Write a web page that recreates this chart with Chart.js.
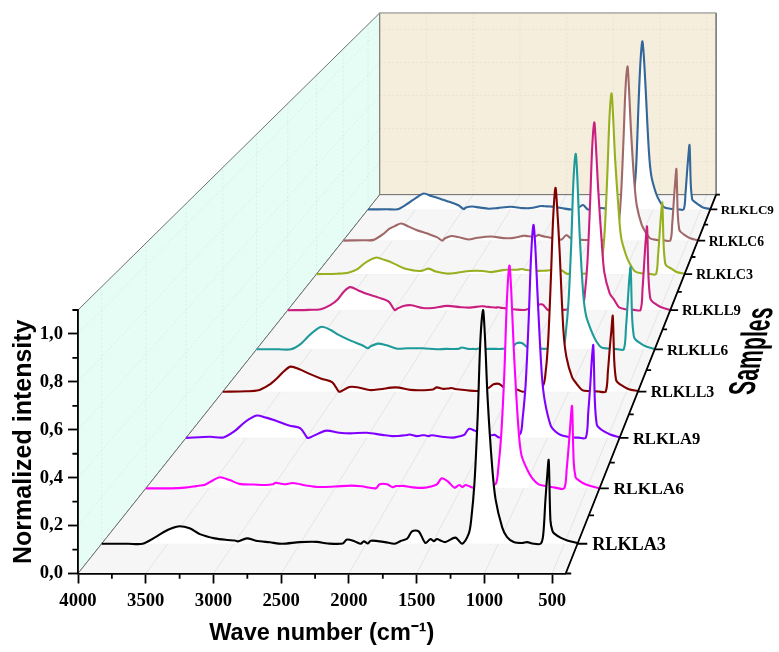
<!DOCTYPE html>
<html>
<head>
<meta charset="utf-8">
<style>
    html, body { margin: 0; padding: 0; background: #fff; }
    canvas { display: block; }
</style>
<script src="https://cdn.jsdelivr.net/npm/chart.js@4/dist/chart.umd.js"></script>
</head>
<body>
<canvas id="chart" width="779" height="652"></canvas>
<script>
//--- Data ---//
const sampleNames = ['RLKLA3', 'RLKLA6', 'RLKLA9', 'RLKLL3', 'RLKLL6', 'RLKLL9', 'RLKLC3', 'RLKLC6', 'RLKLC9'];
const sampleDepths = [0.5, 1.5, 2.5, 3.5, 4.5, 5.5, 6.5, 7.5, 8.5];
const sampleColors = ['#000000', '#ff00ff', '#8000ff', '#800000', '#1f9a9a', '#c9207f', '#98b020', '#a06868', '#336699'];

const waveNumbers = [
    4000, 3800, 3690, 3600, 3530, 3470, 3412, 3335, 3258, 3145,
    3050, 2993, 2970, 2902, 2834, 2728, 2637, 2500, 2372, 2289,
    2176, 2145, 2085, 2040, 2017, 1986, 1964, 1858, 1782, 1738,
    1690, 1652, 1602, 1551, 1513, 1488, 1463, 1437, 1400, 1324,
    1273, 1223, 1205, 1180, 1155, 1135, 1115, 1100, 1080, 1046,
    1020, 970, 933, 883, 820, 781, 743, 680, 660, 643,
    630, 618, 605, 590, 575, 529, 478, 400
];
const rlkla3 = [
    0, 0, 0, .026, .05, .066, .075, .066, .041, .023,
    .016, .014, .01, .023, .013, .006, 0, .007, .008, .001,
    .001, .018, .01, 0, .01, .001, .013, .007, 0, .012,
    .021, .053, .053, .003, .02, .011, .02, .014, .007, .026,
    0, .043, .1, .258, .55, .87, 1, .88, .62, .33,
    .19, .07, .028, .007, .003, .007, .001, 0, .036, .186,
    .286, .358, .1, .055, .043, .026, .014, .003
];
const rlkla6 = [
    0, 0, .003, .01, .016, .035, .05, .037, .02, .017,
    .015, .018, .025, .018, .024, .013, .006, .008, .012, .009,
    0, .018, .018, .005, .01, .01, .011, .003, .003, .008,
    .018, .045, .03, .003, .015, .006, .015, .01, .003, .005,
    .008, .02, .08, .24, .52, .84, 1, .88, .62, .29,
    .15, .08, .045, .018, .01, .006, .002, 0, .09, .2,
    .3, .369, .12, .05, .04, .023, .012, 0
];
const rlkla9 = [
    0, .005, .002, .03, .065, .09, .105, .095, .082, .058,
    .045, 0, .002, .02, .034, .024, .021, .024, .014, .008,
    .012, .016, .008, .012, .012, .008, .012, .004, .001, .006,
    .014, .042, .034, .022, .02, .016, .012, .014, .002, .01,
    .008, .02, .09, .25, .55, .85, 1, .9, .66, .3,
    .17, .055, .03, .012, .004, .002, .001, .001, .12, .25,
    .37, .435, .17, .065, .05, .03, .016, .002
];
const rlkll3 = [
    0, .002, .007, .033, .066, .1, .123, .11, .09, .064,
    .046, 0, .003, .023, .022, .008, .012, .021, .009, .007,
    .011, .021, .014, .016, .018, .013, .012, .005, .004, .012,
    .02, .036, .038, .015, .014, .016, .014, .008, 0, .006,
    .01, .03, .07, .23, .55, .85, 1, .9, .7, .3,
    .17, .07, .04, .008, .003, .002, .001, 0, .1, .22,
    .3, .372, .15, .06, .045, .027, .012, .003
];
const rlkll6 = [
    0, 0, 0, .028, .068, .097, .115, .1, .074, .043,
    .022, .005, .015, .029, .022, .003, .005, .005, 0, .002,
    .002, .009, .002, .002, .001, .004, .002, .002, .002, .005,
    .008, .03, .032, .01, .008, .005, .01, .005, .002, .005,
    .008, .02, .08, .24, .54, .86, 1, .88, .6, .28,
    .17, .09, .045, .01, .004, .002, .001, 0, .11, .25,
    .36, .419, .17, .07, .05, .03, .014, .002
];
const rlkll9 = [
    0, .002, .005, .027, .057, .1, .123, .105, .087, .067,
    .046, 0, .008, .024, .026, .012, .012, .023, .016, .014,
    .021, .02, .016, .014, .016, .012, .011, .004, .001, .006,
    .012, .028, .03, .001, .002, .003, .003, .002, .002, .006,
    .01, .025, .08, .25, .56, .86, 1, .88, .66, .37,
    .2, .09, .06, .016, .005, .003, .002, .001, .12, .27,
    .38, .445, .18, .07, .05, .03, .014, .002
];
const rlklc3 = [
    0, .002, .007, .027, .06, .08, .092, .078, .062, .032,
    .02, .017, .018, .03, .014, .003, .006, .017, .017, .011,
    .022, .024, .024, .024, .026, .028, .024, .018, .018, .02,
    .022, .024, .02, .002, .002, .003, .003, .002, .002, .005,
    .01, .02, .08, .25, .56, .86, 1, .88, .64, .36,
    .2, .1, .055, .014, .005, .003, .001, 0, .1, .23,
    .33, .395, .16, .06, .045, .03, .012, .002
];
const rlklc6 = [
    0, .002, .004, .035, .068, .085, .098, .08, .061, .04,
    .02, 0, .012, .026, .02, .006, .016, .023, .014, .014,
    .027, .027, .022, .026, .033, .027, .024, .012, .006, .031,
    .013, .004, .005, .003, .003, .003, .003, .003, .002, .004,
    .006, .018, .08, .26, .58, .87, 1, .88, .64, .34,
    .2, .09, .05, .012, .004, .002, .001, 0, .1, .24,
    .34, .41, .16, .065, .05, .03, .013, .002
];
const rlklc9 = [
    0, .001, .001, .028, .055, .078, .095, .08, .066, .045,
    .025, .002, .012, .017, .012, .004, .008, .016, .008, .008,
    .02, .019, .017, .016, .013, .01, .008, 0, .012, .026,
    0, 0, 0, .008, .006, .004, .004, .003, .002, .004,
    .006, .018, .08, .25, .62, .87, 1, .92, .72, .35,
    .2, .095, .05, .012, .004, .002, .001, 0, .1, .23,
    .32, .383, .15, .06, .05, .03, .012, .002
];
const sampleValues = [rlkla3, rlkla6, rlkla9, rlkll3, rlkll6, rlkll9, rlklc3, rlklc6, rlklc9];

const xTicks = [4000, 3500, 3000, 2500, 2000, 1500, 1000, 500];
const xMinorTicks = [3750, 3250, 2750, 2250, 1750, 1250, 750];
const yTicks = [0, 0.2, 0.4, 0.6, 0.8, 1.0];
const yMinorTicks = [0.1, 0.3, 0.5, 0.7, 0.9, 1.1];
const zMinorTicks = [0, 1, 2, 3, 4, 5, 6, 7, 8, 9];
//--------------//

//--- Box view ---//
const wnMin = 400, wnMax = 4000, yMax = 1.1, zMax = 9;
const pxPerWn = 487.7 / 3600, pxPerY = 263.5 / 1.1;
// vanishing point of the box, in axis units
const vanishWn = -3178, vanishY = 5.096;
const depthRate = 0.05;

function depthScale(z) {
    return 1 / (1 + depthRate * z);
}
function project(wn, value, z) {
    const s = depthScale(z);
    return { x: vanishWn + s * (wn - vanishWn), y: vanishY + s * (value - vanishY) };
}
const gap = { x: null, y: null };
function segments(list) {
    const out = [];
    list.forEach(pair => out.push(pair[0], pair[1], gap));
    return out;
}
//--------------//

//--- Helpers ---//
// filler plugin clips to the chart area, the box goes far outside it
const underFill = {
    id: 'underFill',
    beforeDatasetDraw(chart, args) {
        const ds = chart.data.datasets[args.index];
        if (!ds.underColor) return;
        const ctx = chart.ctx;
        const pts = args.meta.data;
        ctx.save();
        ctx.beginPath();
        args.meta.dataset.path(ctx);
        if (ds.baseValue !== undefined) {
            const base = chart.scales.y.getPixelForValue(ds.baseValue);
            ctx.lineTo(pts[pts.length - 1].x, base);
            ctx.lineTo(pts[0].x, base);
        }
        ctx.closePath();
        ctx.fillStyle = ds.underColor;
        ctx.fill();
        ctx.restore();
    }
};

const boxText = {
    id: 'boxText',
    afterDraw(chart) {
        const ctx = chart.ctx;
        const { x, y } = chart.scales;
        ctx.save();
        ctx.fillStyle = '#000';
        ctx.textBaseline = 'middle';
        ctx.textAlign = 'left';
        sampleNames.forEach((name, i) => {
            const s = depthScale(sampleDepths[i]);
            const p = project(wnMin, 0, sampleDepths[i]);
            ctx.font = `bold ${(18.7 * s).toFixed(1)}px "Liberation Serif"`;
            ctx.fillText(name, x.getPixelForValue(p.x) + 15 * s, y.getPixelForValue(p.y) + 1.5);
        });
        // z axis title, squeezed and slanted like the original
        ctx.translate(753.3, 395);
        ctx.transform(0.132, -0.575, 1, 0, 0, 0);
        ctx.textBaseline = 'alphabetic';
        ctx.font = 'bold 37px "Liberation Sans"';
        ctx.fillText('Samples', 0, 0);
        ctx.restore();
    }
};
//--------------//

//--- Datasets ---//
function lineSet(label, points, color, width, order, dash) {
    return {
        label, data: points, borderColor: color, borderWidth: width, order,
        borderDash: dash || [], showLine: true, pointRadius: 0, clip: false, tension: 0
    };
}
function wall(label, corners, fill, edge, order) {
    const set = lineSet(label, corners, edge, 1, order);
    set.underColor = fill;
    return set;
}

const datasets = [];

// walls and floor
datasets.push(wall('side wall', [project(wnMax, 0, 0), project(wnMax, yMax, 0), project(wnMax, yMax, zMax), project(wnMax, 0, zMax), project(wnMax, 0, 0)], '#e5fdf5', '#707070', 100));
datasets.push(wall('back wall', [project(wnMax, 0, zMax), project(wnMax, yMax, zMax), project(wnMin, yMax, zMax), project(wnMin, 0, zMax), project(wnMax, 0, zMax)], '#f5eedd', '#808080', 99));
datasets.push(wall('floor', [project(wnMax, 0, 0), project(wnMin, 0, 0), project(wnMin, 0, zMax), project(wnMax, 0, zMax), project(wnMax, 0, 0)], '#f6f6f6', '#707070', 98));

// faint box grid
const sideGrid = sampleDepths.map(z => [project(wnMax, 0, z), project(wnMax, yMax, z)])
    .concat(yTicks.slice(1).map(v => [project(wnMax, v, 0), project(wnMax, v, zMax)]));
const backGrid = xTicks.slice(1).map(w => [project(w, 0, zMax), project(w, yMax, zMax)])
    .concat(yTicks.slice(1).map(v => [project(wnMax, v, zMax), project(wnMin, v, zMax)]));
const floorGrid = xTicks.slice(1).map(w => [project(w, 0, 0), project(w, 0, zMax)]);
const floorRows = sampleDepths.map(z => [project(wnMax, 0, z), project(wnMin, 0, z)]);
datasets.push(lineSet('side grid', segments(sideGrid), 'rgba(120,150,140,0.16)', 0.8, 97, [2, 2]));
datasets.push(lineSet('back grid', segments(backGrid), 'rgba(150,140,110,0.14)', 0.8, 96, [2, 2]));
datasets.push(lineSet('floor grid', segments(floorGrid), 'rgba(120,120,120,0.18)', 0.8, 95));
datasets.push(lineSet('floor rows', segments(floorRows), '#e6e6e6', 0.8, 94, [2, 2]));

// spectra, back one painted first
sampleNames.forEach((name, i) => {
    const z = sampleDepths[i];
    const set = lineSet(name, waveNumbers.map((w, k) => project(w, sampleValues[i][k], z)), sampleColors[i], 2.1, i);
    set.underColor = '#ffffff';
    set.baseValue = project(wnMax, 0, z).y;
    set.tension = 0.3;
    datasets.push(set);
});

// minor ticks and the depth axis
const minorSegs = xMinorTicks.map(w => [{ x: w, y: 0 }, { x: w, y: -5.2 / pxPerY }])
    .concat(yMinorTicks.map(v => [{ x: wnMax, y: v }, { x: wnMax + 5.6 / pxPerWn, y: v }]));
const zSegs = [[project(wnMin, 0, 0), project(wnMin, 0, zMax)]]
    .concat(zMinorTicks.map(z => {
        const p = project(wnMin, 0, z);
        return [p, { x: p.x - 5.5 * depthScale(z) / pxPerWn, y: p.y }];
    }))
    .concat(sampleDepths.map(z => {
        const p = project(wnMin, 0, z);
        return [p, { x: p.x - 10 * depthScale(z) / pxPerWn, y: p.y }];
    }));
datasets.push(lineSet('minor ticks', segments(minorSegs), '#000', 1.8, -1));
datasets.push(lineSet('depth axis', segments(zSegs), '#000', 1.8, -1));
//--------------//

//--- Chart ---//
const tickFont = { family: 'Liberation Serif', weight: 'bold', size: 18.7 };
const titleFont = { family: 'Liberation Sans', weight: 'bold' };

new Chart(document.getElementById('chart'), {
    type: 'scatter',
    data: { datasets },
    plugins: [underFill, boxText],
    options: {
        responsive: false,
        animation: false,
        elements: { line: { capBezierPoints: false } },
        layout: { padding: { left: 0, top: 310, right: 213.3, bottom: 0 } },
        plugins: { legend: { display: false }, tooltip: { enabled: false } },
        scales: {
            x: {
                type: 'linear',
                reverse: true,
                min: wnMin,
                max: wnMax,
                afterBuildTicks: s => { s.ticks = xTicks.map(value => ({ value })); },
                afterFit: s => { s.height = 78.5; },
                ticks: { autoSkip: false, maxRotation: 0, padding: 6, color: '#000', font: tickFont, z: 1, callback: v => String(v) },
                grid: { drawOnChartArea: false, tickLength: 10, tickWidth: 1.8, tickColor: '#000', z: 1 },
                border: { color: '#000', width: 1.8, z: 1 },
                title: { display: true, text: 'Wave number (cm⁻¹)', color: '#000', font: { ...titleFont, size: 23.5 }, padding: { top: 0, bottom: 4 } }
            },
            y: {
                min: 0,
                max: yMax,
                afterBuildTicks: s => { s.ticks = yTicks.map(value => ({ value })); },
                afterFit: s => { s.width = 78; },
                ticks: { autoSkip: false, padding: 5, color: '#000', font: tickFont, z: 1, callback: v => v.toFixed(1).replace('.', ',') },
                grid: { drawOnChartArea: false, tickLength: 10, tickWidth: 1.8, tickColor: '#000', z: 1 },
                border: { color: '#000', width: 1.8, z: 1 },
                title: { display: true, text: 'Normalized intensity', color: '#000', font: { ...titleFont, size: 25 }, padding: { top: 9, bottom: 0 } }
            }
        }
    }
});
//-------------//
</script>
</body>
</html>
